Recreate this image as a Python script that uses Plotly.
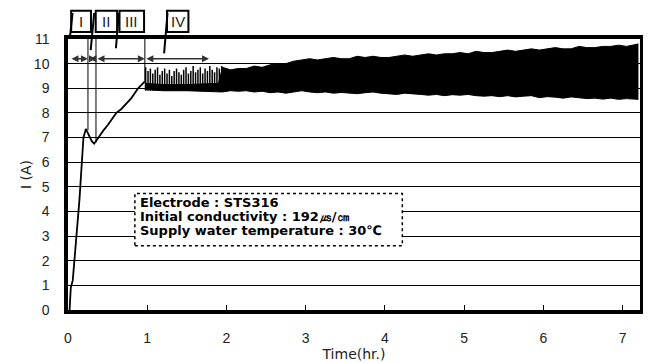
import plotly.graph_objects as go

# ---- data ----
# initial rise (phases I-III)
rise_t = [0.02, 0.035, 0.06, 0.09, 0.12, 0.145, 0.165, 0.18, 0.195, 0.225, 0.26, 0.30, 0.33,
          0.37, 0.40, 0.45, 0.50, 0.55, 0.61, 0.67, 0.74, 0.80, 0.885, 0.93, 0.97]
rise_i = [0.0, 0.9, 1.2, 2.3, 3.3, 4.5, 5.5, 6.3, 7.0, 7.35, 7.1, 6.85, 6.75,
          6.95, 7.1, 7.3, 7.5, 7.75, 8.0, 8.15, 8.4, 8.6, 9.0, 9.15, 9.28]

# oscillating band (phase IV): envelope
band_t = [0.97, 1.2, 1.5, 1.9,
          1.95, 2.05, 2.15, 2.25, 2.35, 2.45, 2.55, 2.65, 2.75, 2.85, 2.95, 3.05, 3.15, 3.25,
          3.35, 3.45, 3.55, 3.65, 3.75, 3.85, 3.95, 4.05, 4.15, 4.25, 4.35, 4.45, 4.55, 4.65,
          4.75, 4.85, 4.95, 5.05, 5.15, 5.25, 5.35, 5.45, 5.55, 5.65, 5.75, 5.85, 5.95, 6.05,
          6.15, 6.25, 6.35, 6.45, 6.55, 6.65, 6.75, 6.85, 6.95, 7.05, 7.2]
band_upper = [9.2, 9.15, 9.15, 9.2,
              9.85, 9.75, 9.8, 9.8, 9.9, 9.85, 9.95, 10.0, 10.0, 10.1, 10.15, 10.2, 10.15, 10.2,
              10.25, 10.2, 10.2, 10.3, 10.25, 10.3, 10.25, 10.25, 10.3, 10.35, 10.3, 10.35, 10.4, 10.35,
              10.4, 10.4, 10.45, 10.4, 10.5, 10.45, 10.45, 10.5, 10.55, 10.5, 10.55, 10.6, 10.55, 10.6,
              10.65, 10.6, 10.6, 10.7, 10.65, 10.65, 10.7, 10.7, 10.75, 10.7, 10.8]
band_lower = [8.95, 8.9, 8.9, 8.88,
              8.85, 8.9, 8.88, 8.9, 8.85, 8.88, 8.82, 8.85, 8.8, 8.85, 8.9, 8.85, 8.82, 8.85,
              8.8, 8.83, 8.8, 8.78, 8.82, 8.85, 8.8, 8.78, 8.75, 8.8, 8.76, 8.75, 8.72, 8.75,
              8.7, 8.74, 8.72, 8.75, 8.7, 8.68, 8.7, 8.66, 8.7, 8.65, 8.68, 8.7, 8.62, 8.66,
              8.64, 8.6, 8.65, 8.62, 8.58, 8.6, 8.56, 8.6, 8.55, 8.58, 8.55]

# sparse spikes at the start of phase IV
spike_t = [0.98, 1.01, 1.04, 1.07, 1.10, 1.13, 1.16, 1.19, 1.22, 1.25, 1.28, 1.31, 1.34, 1.37,
           1.40, 1.43, 1.46, 1.49, 1.52, 1.55, 1.58, 1.61, 1.64, 1.67, 1.70, 1.73, 1.76, 1.79,
           1.82, 1.85, 1.88, 1.91, 1.94]
spike_top = [9.85, 9.7, 9.8, 9.6, 9.75, 9.85, 9.55, 9.7, 9.8, 9.6, 9.75, 9.5, 9.7, 9.8,
             9.65, 9.55, 9.75, 9.85, 9.6, 9.7, 9.9, 9.65, 9.75, 9.85, 9.6, 9.8, 9.7, 9.9,
             9.75, 9.65, 9.85, 9.8, 9.9]
spike_base = 8.9

x_ticks = [0, 1, 2, 3, 4, 5, 6, 7]
phase_labels = ["I", "II", "III", "IV"]
phase_bounds = [0.025, 0.252, 0.353, 0.97, 1.78]   # arrow extents
info_lines = ["Electrode : STS316",
              "Initial conductivity : 192㎲/㎝",
              "Supply water temperature : 30℃"]

fig = go.Figure()

# band
fig.add_trace(go.Scatter(x=band_t, y=band_lower, mode="lines",
                         line=dict(color="black", width=1), showlegend=False, hoverinfo="skip"))
fig.add_trace(go.Scatter(x=band_t, y=band_upper, mode="lines", fill="tonexty",
                         fillcolor="black", line=dict(color="black", width=1),
                         showlegend=False, hoverinfo="skip"))
# spikes
sx, sy = [], []
for t, top in zip(spike_t, spike_top):
    sx += [t, t, None]
    sy += [spike_base, top, None]
fig.add_trace(go.Scatter(x=sx, y=sy, mode="lines", line=dict(color="black", width=1.5),
                         showlegend=False, hoverinfo="skip"))
# rise
fig.add_trace(go.Scatter(x=rise_t, y=rise_i, mode="lines", line=dict(color="black", width=1.8),
                         showlegend=False, hoverinfo="skip"))

shapes = []
# vertical phase separators
shapes.append(dict(type="line", xref="x", yref="y", x0=0.252, x1=0.252, y0=7.3, y1=11,
                   line=dict(color="black", width=1)))
shapes.append(dict(type="line", xref="x", yref="y", x0=0.353, x1=0.353, y0=6.8, y1=11,
                   line=dict(color="black", width=1)))
shapes.append(dict(type="line", xref="x", yref="y", x0=0.97, x1=0.97, y0=9.3, y1=11,
                   line=dict(color="black", width=1)))

# callout boxes above the plot
box_x = [(0.04, 0.29), (0.35, 0.62), (0.65, 0.96), (1.25, 1.52)]
leaders = [((0.057, 1.096), (0.025, 1.006)),
           ((0.331, 1.096), (0.286, 0.959)),
           ((0.642, 1.096), (0.605, 0.966)),
           ((1.256, 1.096), (1.213, 0.947))]
annotations = []
for (x0, x1), lab, ((lx0, ly0), (lx1, ly1)) in zip(box_x, phase_labels, leaders):
    shapes.append(dict(type="rect", xref="x", yref="paper", x0=x0, x1=x1, y0=1.026, y1=1.104,
                       line=dict(color="black", width=2), fillcolor="white", layer="below"))
    shapes.append(dict(type="line", xref="x", yref="paper", x0=lx0, x1=lx1, y0=ly0, y1=ly1,
                       line=dict(color="black", width=2)))
    annotations.append(dict(x=(x0 + x1) / 2, y=1.065, xref="x", yref="paper", text=lab,
                            showarrow=False, yanchor="middle",
                            font=dict(family="Liberation Sans", size=15, color="#222")))

# double arrows
for a, b in zip(phase_bounds[:-1], phase_bounds[1:]):
    annotations.append(dict(x=b, y=10.2, ax=a, ay=10.2, xref="x", yref="y", axref="x", ayref="y",
                            text="", showarrow=True, arrowhead=2, startarrowhead=2,
                            arrowside="end+start", arrowsize=1, arrowwidth=1.4, arrowcolor="#333"))

# info box
shapes.append(dict(type="rect", xref="x", yref="y", x0=0.844, x1=4.22, y0=2.61, y1=4.73,
                   line=dict(color="black", width=1.5, dash="dot"), fillcolor="white", layer="above"))
for line, yv in zip(info_lines, [4.38, 3.8, 3.22]):
    annotations.append(dict(x=0.88, y=yv, xref="x", yref="y", text="<b>" + line + "</b>",
                            showarrow=False, xanchor="left", yanchor="middle",
                            font=dict(family="DejaVu Sans", size=13, color="black")))

# the page body adds an 8px offset; the figure is sized to the visible area
fig.update_layout(
    width=643, height=355,
    margin=dict(l=60, r=11, t=31, b=53, autoexpand=False),
    paper_bgcolor="white", plot_bgcolor="white",
    shapes=shapes, annotations=annotations,
    font=dict(family="Liberation Sans", size=14, color="#222"),
)
fig.update_xaxes(range=[0, 7.22], tickvals=x_ticks, ticks="inside", ticklen=5, tickcolor="black",
                 tickwidth=1, showline=True, linewidth=3.5, linecolor="black", mirror=True,
                 showgrid=False, zeroline=False, ticklabelstandoff=12, automargin=False,
                 title=dict(text="Time(hr.)", standoff=0,
                            font=dict(family="DejaVu Sans", size=14)))
fig.update_yaxes(range=[0, 11], dtick=1, showgrid=True, gridcolor="black", gridwidth=1,
                 showline=True, linewidth=3.5, linecolor="black", mirror=True, ticks="",
                 zeroline=False, ticklabelstandoff=12, automargin=False,
                 title=dict(text="I (A)", standoff=0,
                            font=dict(family="DejaVu Sans", size=14)))

fig.write_html("out.html")
